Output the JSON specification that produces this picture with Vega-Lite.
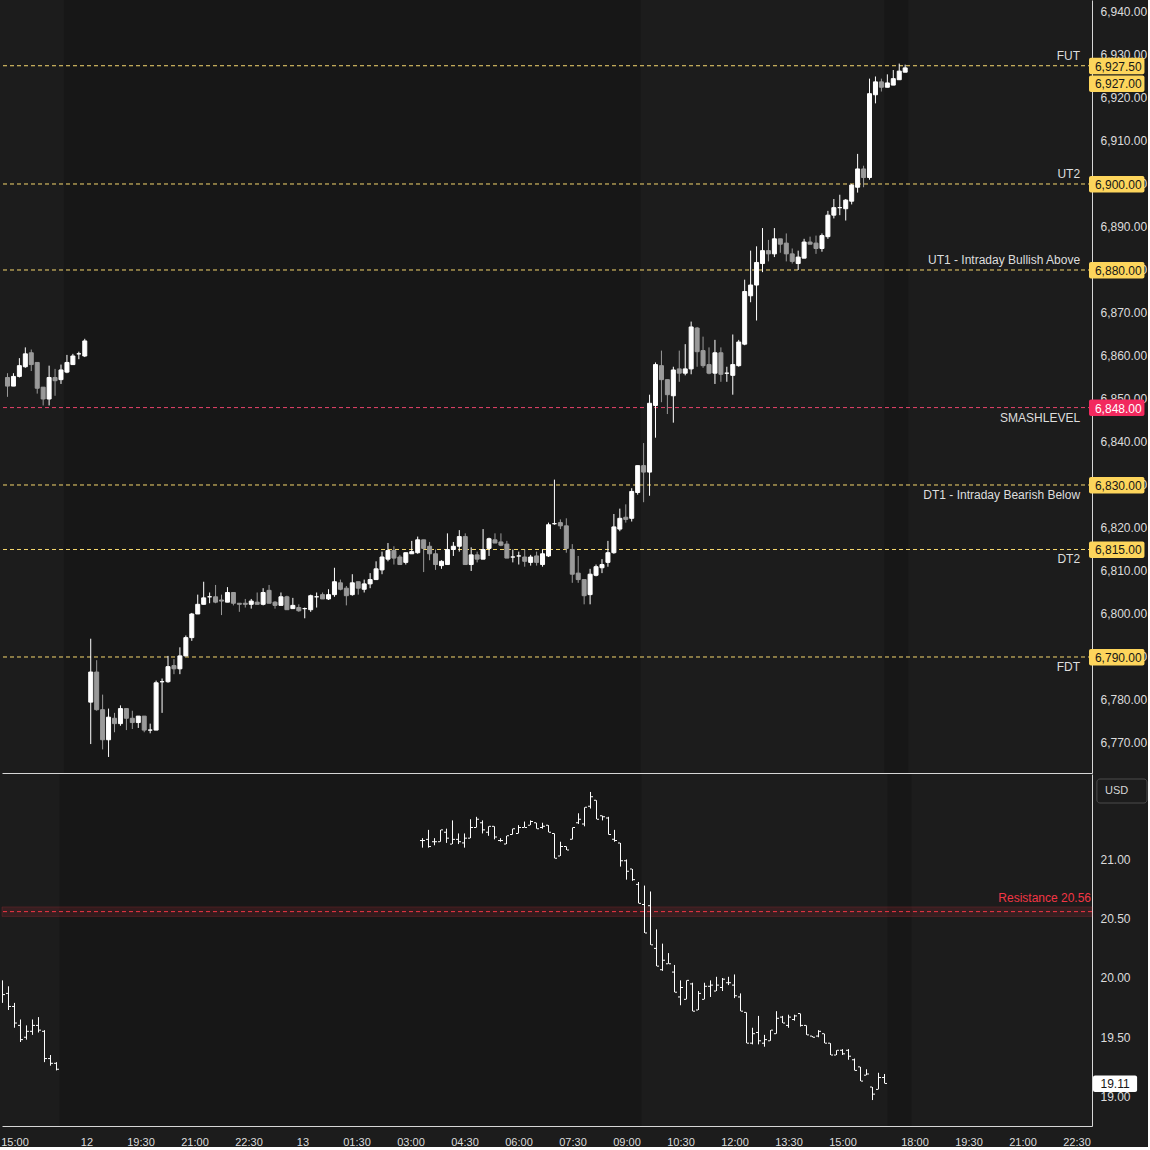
{
  "$schema": "https://vega.github.io/schema/vega-lite/v6.json",
  "background": "#1c1c1c",
  "padding": 0,
  "autosize": {"type": "pad"},
  "spacing": 1,
  "config": {
    "view": {"stroke": null},
    "axis": {"labelFont": "Liberation Sans", "labelFontSize": 12, "labelColor": "#dcdcdc", "domainColor": "#d6d6d6", "grid": false, "ticks": false},
    "text": {"font": "Liberation Sans", "fontSize": 12}
  },
  "datasets": {
    "sessions": [{"start": -4.5, "end": 92.5}, {"start": 133.5, "end": 137.5}],
    "levels": [
      {"name": "FUT", "price": 6927.5, "kind": "level"},
      {"name": "UT2", "price": 6900, "kind": "level"},
      {"name": "UT1 - Intraday Bullish Above", "price": 6880, "kind": "level"},
      {"name": "SMASHLEVEL", "price": 6848, "kind": "smash"},
      {"name": "DT1 - Intraday Bearish Below", "price": 6830, "kind": "level"},
      {"name": "DT2", "price": 6815, "kind": "level"},
      {"name": "FDT", "price": 6790, "kind": "level"}
    ],
    "lastES": [{"price": 6927}],
    "lastVIX": [{"value": 19.11}],
    "res": [{"value": 20.56, "lo": 20.52, "hi": 20.6, "label": "Resistance 20.56"}],
    "usd": [{"t": "USD"}],
    "es": [
      {"k": -14, "o": 6855, "h": 6856, "l": 6850.5, "c": 6853},
      {"k": -13, "o": 6853, "h": 6856, "l": 6853, "c": 6855.25},
      {"k": -12, "o": 6855.25, "h": 6859.5, "l": 6855, "c": 6857.75},
      {"k": -11, "o": 6857.5, "h": 6862, "l": 6857.25, "c": 6860.5},
      {"k": -10, "o": 6860.75, "h": 6861.5, "l": 6856.5, "c": 6858},
      {"k": -9, "o": 6858.5, "h": 6858.5, "l": 6851.25, "c": 6852.5},
      {"k": -8, "o": 6852.75, "h": 6852.75, "l": 6848.5, "c": 6850},
      {"k": -7, "o": 6850, "h": 6857.75, "l": 6848.5, "c": 6855},
      {"k": -6, "o": 6855, "h": 6857, "l": 6850.75, "c": 6854.25},
      {"k": -5, "o": 6854.5, "h": 6858, "l": 6853.5, "c": 6856.75},
      {"k": -4, "o": 6856.25, "h": 6860.25, "l": 6856, "c": 6858.5},
      {"k": -3, "o": 6858, "h": 6860.5, "l": 6858, "c": 6860},
      {"k": -2, "o": 6860.5, "h": 6861, "l": 6859.25, "c": 6860.5},
      {"k": -1, "o": 6860, "h": 6864, "l": 6859.75, "c": 6863.5},
      {"k": 0, "o": 6779.5, "h": 6794.25, "l": 6769.75, "c": 6786.5},
      {"k": 1, "o": 6786.5, "h": 6789.25, "l": 6777.5, "c": 6777.75},
      {"k": 2, "o": 6777.75, "h": 6781.25, "l": 6768.5, "c": 6770.75},
      {"k": 3, "o": 6770.75, "h": 6778, "l": 6766.75, "c": 6776},
      {"k": 4, "o": 6775.75, "h": 6777, "l": 6772.5, "c": 6774.5},
      {"k": 5, "o": 6774.5, "h": 6778.75, "l": 6774, "c": 6778},
      {"k": 6, "o": 6778, "h": 6778, "l": 6773, "c": 6775.75},
      {"k": 7, "o": 6775.75, "h": 6777.5, "l": 6773.25, "c": 6774.75},
      {"k": 8, "o": 6774.75, "h": 6776.25, "l": 6773.5, "c": 6776.25},
      {"k": 9, "o": 6776.25, "h": 6776.25, "l": 6772.5, "c": 6773},
      {"k": 10, "o": 6773, "h": 6774.5, "l": 6772.25, "c": 6773},
      {"k": 11, "o": 6773, "h": 6784.5, "l": 6773, "c": 6784},
      {"k": 12, "o": 6784.25, "h": 6785, "l": 6777, "c": 6784.25},
      {"k": 13, "o": 6784.25, "h": 6790.25, "l": 6784, "c": 6787.75},
      {"k": 14, "o": 6788, "h": 6789.5, "l": 6786, "c": 6787.25},
      {"k": 15, "o": 6787.25, "h": 6792.25, "l": 6786, "c": 6790.25},
      {"k": 16, "o": 6790.25, "h": 6795, "l": 6790.25, "c": 6794.5},
      {"k": 17, "o": 6794.5, "h": 6800.25, "l": 6793.75, "c": 6800},
      {"k": 18, "o": 6800, "h": 6804.5, "l": 6800, "c": 6802.25},
      {"k": 19, "o": 6802.25, "h": 6807.5, "l": 6802.25, "c": 6803.75},
      {"k": 20, "o": 6804, "h": 6805, "l": 6802.5, "c": 6804},
      {"k": 21, "o": 6804, "h": 6806.75, "l": 6802.5, "c": 6802.75},
      {"k": 22, "o": 6803.25, "h": 6804.5, "l": 6799.75, "c": 6803},
      {"k": 23, "o": 6802.75, "h": 6806.25, "l": 6802.75, "c": 6805},
      {"k": 24, "o": 6805, "h": 6805, "l": 6802, "c": 6802.5},
      {"k": 25, "o": 6802.5, "h": 6802.5, "l": 6800.5, "c": 6802.25},
      {"k": 26, "o": 6802.5, "h": 6803.5, "l": 6801.5, "c": 6802.25},
      {"k": 27, "o": 6802.25, "h": 6803.5, "l": 6801.25, "c": 6803},
      {"k": 28, "o": 6802.75, "h": 6805, "l": 6802.25, "c": 6802.25},
      {"k": 29, "o": 6802.25, "h": 6806, "l": 6802, "c": 6805},
      {"k": 30, "o": 6805.5, "h": 6806.75, "l": 6802.5, "c": 6802.5},
      {"k": 31, "o": 6802.75, "h": 6803, "l": 6801.25, "c": 6802},
      {"k": 32, "o": 6802, "h": 6805, "l": 6802, "c": 6804},
      {"k": 33, "o": 6804, "h": 6804.25, "l": 6801, "c": 6801},
      {"k": 34, "o": 6801.25, "h": 6803.75, "l": 6801.25, "c": 6802},
      {"k": 35, "o": 6801.5, "h": 6802.25, "l": 6800.5, "c": 6800.75},
      {"k": 36, "o": 6801.25, "h": 6801.5, "l": 6799, "c": 6801.25},
      {"k": 37, "o": 6801, "h": 6804.5, "l": 6800.5, "c": 6804.25},
      {"k": 38, "o": 6804, "h": 6805, "l": 6801.5, "c": 6804},
      {"k": 39, "o": 6804.5, "h": 6805, "l": 6803.5, "c": 6803.5},
      {"k": 40, "o": 6803.5, "h": 6805.75, "l": 6803.25, "c": 6804.5},
      {"k": 41, "o": 6804.5, "h": 6810.75, "l": 6804, "c": 6807.5},
      {"k": 42, "o": 6807.25, "h": 6808, "l": 6805.5, "c": 6805.75},
      {"k": 43, "o": 6806, "h": 6806.5, "l": 6802, "c": 6804.25},
      {"k": 44, "o": 6804.5, "h": 6809.25, "l": 6804.25, "c": 6807.25},
      {"k": 45, "o": 6807.5, "h": 6807.5, "l": 6804.5, "c": 6806},
      {"k": 46, "o": 6805.75, "h": 6808, "l": 6805, "c": 6807},
      {"k": 47, "o": 6807, "h": 6809.5, "l": 6806, "c": 6808},
      {"k": 48, "o": 6808, "h": 6812.25, "l": 6808, "c": 6810.5},
      {"k": 49, "o": 6810.25, "h": 6814.5, "l": 6809.25, "c": 6813.25},
      {"k": 50, "o": 6812.75, "h": 6816.5, "l": 6812.25, "c": 6814.75},
      {"k": 51, "o": 6814.75, "h": 6815.75, "l": 6811.5, "c": 6813},
      {"k": 52, "o": 6813.25, "h": 6813.75, "l": 6811.5, "c": 6811.5},
      {"k": 53, "o": 6812, "h": 6814.25, "l": 6811.5, "c": 6814.25},
      {"k": 54, "o": 6814, "h": 6817, "l": 6814, "c": 6814.5},
      {"k": 55, "o": 6814.25, "h": 6818, "l": 6814, "c": 6817.25},
      {"k": 56, "o": 6817.25, "h": 6817.25, "l": 6809.75, "c": 6815.25},
      {"k": 57, "o": 6815.75, "h": 6816.75, "l": 6812.5, "c": 6814},
      {"k": 58, "o": 6814, "h": 6815, "l": 6810.25, "c": 6811.5},
      {"k": 59, "o": 6811.25, "h": 6812.5, "l": 6810.5, "c": 6812.25},
      {"k": 60, "o": 6811.5, "h": 6818.75, "l": 6811.5, "c": 6815},
      {"k": 61, "o": 6815, "h": 6816.75, "l": 6813.5, "c": 6815.75},
      {"k": 62, "o": 6815.75, "h": 6819.5, "l": 6814.5, "c": 6818},
      {"k": 63, "o": 6818, "h": 6818.75, "l": 6811.5, "c": 6811.5},
      {"k": 64, "o": 6811.5, "h": 6815.5, "l": 6810, "c": 6813.75},
      {"k": 65, "o": 6813.75, "h": 6814.5, "l": 6812, "c": 6812.75},
      {"k": 66, "o": 6812.75, "h": 6819.75, "l": 6812.75, "c": 6815},
      {"k": 67, "o": 6815.25, "h": 6817.75, "l": 6813.5, "c": 6817.5},
      {"k": 68, "o": 6817.25, "h": 6818.75, "l": 6816.5, "c": 6816.5},
      {"k": 69, "o": 6816.75, "h": 6818.75, "l": 6815.75, "c": 6816},
      {"k": 70, "o": 6816.25, "h": 6817, "l": 6813, "c": 6813},
      {"k": 71, "o": 6813.25, "h": 6815, "l": 6812, "c": 6813.25},
      {"k": 72, "o": 6813.5, "h": 6814.5, "l": 6811.5, "c": 6813.5},
      {"k": 73, "o": 6813.25, "h": 6815, "l": 6811, "c": 6812.25},
      {"k": 74, "o": 6812, "h": 6813.75, "l": 6811.25, "c": 6813.25},
      {"k": 75, "o": 6813.5, "h": 6814.5, "l": 6811.25, "c": 6812},
      {"k": 76, "o": 6811.5, "h": 6815, "l": 6811, "c": 6814},
      {"k": 77, "o": 6813.5, "h": 6821.25, "l": 6813.25, "c": 6820.75},
      {"k": 78, "o": 6821, "h": 6831.25, "l": 6820.75, "c": 6821},
      {"k": 79, "o": 6821.25, "h": 6822, "l": 6819.75, "c": 6820.5},
      {"k": 80, "o": 6820.5, "h": 6822.25, "l": 6814.25, "c": 6815.25},
      {"k": 81, "o": 6815, "h": 6816.25, "l": 6807.25, "c": 6809.25},
      {"k": 82, "o": 6809.5, "h": 6813.5, "l": 6807.25, "c": 6808},
      {"k": 83, "o": 6808, "h": 6808, "l": 6802.25, "c": 6804.25},
      {"k": 84, "o": 6804.5, "h": 6810.5, "l": 6802.25, "c": 6809.25},
      {"k": 85, "o": 6809, "h": 6811.5, "l": 6808.75, "c": 6811},
      {"k": 86, "o": 6810.75, "h": 6812.75, "l": 6809.5, "c": 6811.5},
      {"k": 87, "o": 6812, "h": 6817, "l": 6811, "c": 6814.25},
      {"k": 88, "o": 6814.25, "h": 6823.25, "l": 6814, "c": 6820.25},
      {"k": 89, "o": 6819.75, "h": 6824.5, "l": 6819.25, "c": 6822.25},
      {"k": 90, "o": 6822.5, "h": 6825.5, "l": 6821.25, "c": 6822},
      {"k": 91, "o": 6822.25, "h": 6829.25, "l": 6821.5, "c": 6828.5},
      {"k": 92, "o": 6828.25, "h": 6834.5, "l": 6827.75, "c": 6834.5},
      {"k": 93, "o": 6834.5, "h": 6839.75, "l": 6826, "c": 6833},
      {"k": 94, "o": 6833, "h": 6851, "l": 6827.5, "c": 6849},
      {"k": 95, "o": 6848.5, "h": 6858.5, "l": 6841, "c": 6858},
      {"k": 96, "o": 6857.75, "h": 6861.25, "l": 6849.25, "c": 6854.5},
      {"k": 97, "o": 6854.5, "h": 6854.5, "l": 6846.5, "c": 6851},
      {"k": 98, "o": 6850.75, "h": 6857.5, "l": 6844.5, "c": 6856.75},
      {"k": 99, "o": 6857, "h": 6861.25, "l": 6854, "c": 6856},
      {"k": 100, "o": 6856, "h": 6862.75, "l": 6855.5, "c": 6857},
      {"k": 101, "o": 6857, "h": 6868, "l": 6855.75, "c": 6866.75},
      {"k": 102, "o": 6866.5, "h": 6866.75, "l": 6857.5, "c": 6861},
      {"k": 103, "o": 6861.25, "h": 6864.5, "l": 6857.25, "c": 6857.75},
      {"k": 104, "o": 6858, "h": 6862, "l": 6855.75, "c": 6856},
      {"k": 105, "o": 6856, "h": 6863.75, "l": 6853.5, "c": 6860.75},
      {"k": 106, "o": 6860.75, "h": 6862, "l": 6854, "c": 6855.75},
      {"k": 107, "o": 6856, "h": 6857.5, "l": 6854, "c": 6856},
      {"k": 108, "o": 6855.5, "h": 6865, "l": 6851, "c": 6858},
      {"k": 109, "o": 6857.75, "h": 6863.75, "l": 6857.5, "c": 6863.25},
      {"k": 110, "o": 6862.75, "h": 6877.75, "l": 6862.5, "c": 6875},
      {"k": 111, "o": 6874, "h": 6884.5, "l": 6872.5, "c": 6876.5},
      {"k": 112, "o": 6876.5, "h": 6885.5, "l": 6868.25, "c": 6881.75},
      {"k": 113, "o": 6881.5, "h": 6889.75, "l": 6879.5, "c": 6884.5},
      {"k": 114, "o": 6884.5, "h": 6887, "l": 6882, "c": 6883.75},
      {"k": 115, "o": 6883.75, "h": 6889.75, "l": 6883, "c": 6887.25},
      {"k": 116, "o": 6887.25, "h": 6887.25, "l": 6884, "c": 6886},
      {"k": 117, "o": 6886.25, "h": 6888.5, "l": 6882, "c": 6883.75},
      {"k": 118, "o": 6883.75, "h": 6885, "l": 6881.5, "c": 6882},
      {"k": 119, "o": 6881.5, "h": 6884.5, "l": 6880, "c": 6883},
      {"k": 120, "o": 6882.75, "h": 6887.25, "l": 6882.75, "c": 6886.5},
      {"k": 121, "o": 6886.5, "h": 6887.75, "l": 6886, "c": 6886},
      {"k": 122, "o": 6886.25, "h": 6888, "l": 6883.75, "c": 6885},
      {"k": 123, "o": 6885, "h": 6888.5, "l": 6884.25, "c": 6888},
      {"k": 124, "o": 6887.75, "h": 6893.75, "l": 6887.25, "c": 6892.75},
      {"k": 125, "o": 6892.75, "h": 6896.5, "l": 6892, "c": 6894.5},
      {"k": 126, "o": 6894.5, "h": 6897.5, "l": 6892.75, "c": 6894.5},
      {"k": 127, "o": 6894.25, "h": 6896.5, "l": 6891.5, "c": 6896.25},
      {"k": 128, "o": 6896, "h": 6900, "l": 6895.25, "c": 6899.75},
      {"k": 129, "o": 6899.25, "h": 6907, "l": 6898, "c": 6903.5},
      {"k": 130, "o": 6903.5, "h": 6904.25, "l": 6899.25, "c": 6901.5},
      {"k": 131, "o": 6901.5, "h": 6924.5, "l": 6901, "c": 6921},
      {"k": 132, "o": 6920.75, "h": 6925, "l": 6918.75, "c": 6923.75},
      {"k": 133, "o": 6923.75, "h": 6924.5, "l": 6921.5, "c": 6922.5},
      {"k": 134, "o": 6922.5, "h": 6925.5, "l": 6922.5, "c": 6923.5},
      {"k": 135, "o": 6923, "h": 6926.5, "l": 6923, "c": 6924.5},
      {"k": 136, "o": 6924.25, "h": 6928, "l": 6924.25, "c": 6926.25},
      {"k": 137, "o": 6926, "h": 6927.75, "l": 6926, "c": 6927}
    ],
    "vix": [
      {"k": -14, "o": 19.95, "h": 19.98, "l": 19.79, "c": 19.86},
      {"k": -13, "o": 19.87, "h": 19.93, "l": 19.73, "c": 19.76},
      {"k": -12, "o": 19.76, "h": 19.79, "l": 19.58, "c": 19.62},
      {"k": -11, "o": 19.6, "h": 19.65, "l": 19.46, "c": 19.48},
      {"k": -10, "o": 19.5, "h": 19.6, "l": 19.48, "c": 19.55},
      {"k": -9, "o": 19.55, "h": 19.65, "l": 19.52, "c": 19.6},
      {"k": -8, "o": 19.6, "h": 19.67, "l": 19.54, "c": 19.56},
      {"k": -7, "o": 19.55, "h": 19.56, "l": 19.29, "c": 19.32},
      {"k": -6, "o": 19.32, "h": 19.35, "l": 19.26, "c": 19.28},
      {"k": -5, "o": 19.28, "h": 19.29, "l": 19.22, "c": 19.23},
      {"k": 56, "o": 21.16, "h": 21.18, "l": 21.1, "c": 21.16},
      {"k": 57, "o": 21.17, "h": 21.25, "l": 21.1, "c": 21.11},
      {"k": 58, "o": 21.15, "h": 21.18, "l": 21.12, "c": 21.15},
      {"k": 59, "o": 21.15, "h": 21.25, "l": 21.15, "c": 21.25},
      {"k": 60, "o": 21.23, "h": 21.26, "l": 21.14, "c": 21.18},
      {"k": 61, "o": 21.13, "h": 21.33, "l": 21.13, "c": 21.17},
      {"k": 62, "o": 21.17, "h": 21.22, "l": 21.13, "c": 21.15},
      {"k": 63, "o": 21.14, "h": 21.22, "l": 21.1, "c": 21.18},
      {"k": 64, "o": 21.18, "h": 21.34, "l": 21.18, "c": 21.27},
      {"k": 65, "o": 21.27, "h": 21.36, "l": 21.27, "c": 21.34},
      {"k": 66, "o": 21.31, "h": 21.33, "l": 21.22, "c": 21.25},
      {"k": 67, "o": 21.23, "h": 21.28, "l": 21.2, "c": 21.28},
      {"k": 68, "o": 21.28, "h": 21.28, "l": 21.17, "c": 21.19},
      {"k": 69, "o": 21.16, "h": 21.18, "l": 21.15, "c": 21.16},
      {"k": 70, "o": 21.13, "h": 21.2, "l": 21.13, "c": 21.2},
      {"k": 71, "o": 21.21, "h": 21.26, "l": 21.21, "c": 21.26},
      {"k": 72, "o": 21.22, "h": 21.29, "l": 21.22, "c": 21.27},
      {"k": 73, "o": 21.27, "h": 21.32, "l": 21.27, "c": 21.27},
      {"k": 74, "o": 21.29, "h": 21.33, "l": 21.29, "c": 21.32},
      {"k": 75, "o": 21.31, "h": 21.31, "l": 21.26, "c": 21.26},
      {"k": 76, "o": 21.27, "h": 21.31, "l": 21.26, "c": 21.28},
      {"k": 77, "o": 21.29, "h": 21.29, "l": 21.23, "c": 21.23},
      {"k": 78, "o": 21.22, "h": 21.22, "l": 21.01, "c": 21.01},
      {"k": 79, "o": 21.03, "h": 21.15, "l": 21.03, "c": 21.11},
      {"k": 80, "o": 21.11, "h": 21.11, "l": 21.08, "c": 21.08},
      {"k": 81, "o": 21.17, "h": 21.27, "l": 21.17, "c": 21.27},
      {"k": 82, "o": 21.31, "h": 21.39, "l": 21.3, "c": 21.34},
      {"k": 83, "o": 21.3, "h": 21.44, "l": 21.28, "c": 21.44},
      {"k": 84, "o": 21.45, "h": 21.57, "l": 21.43, "c": 21.53},
      {"k": 85, "o": 21.5, "h": 21.5, "l": 21.34, "c": 21.34},
      {"k": 86, "o": 21.37, "h": 21.37, "l": 21.33, "c": 21.36},
      {"k": 87, "o": 21.35, "h": 21.36, "l": 21.21, "c": 21.21},
      {"k": 88, "o": 21.17, "h": 21.25, "l": 21.15, "c": 21.16},
      {"k": 89, "o": 21.14, "h": 21.14, "l": 20.94, "c": 20.99},
      {"k": 90, "o": 20.99, "h": 21.0, "l": 20.83, "c": 20.9},
      {"k": 91, "o": 20.92, "h": 20.92, "l": 20.82, "c": 20.83},
      {"k": 92, "o": 20.79, "h": 20.81, "l": 20.63, "c": 20.63},
      {"k": 93, "o": 20.62, "h": 20.78, "l": 20.38, "c": 20.38},
      {"k": 94, "o": 20.61, "h": 20.73, "l": 20.28, "c": 20.28},
      {"k": 95, "o": 20.25, "h": 20.41, "l": 20.1, "c": 20.1},
      {"k": 96, "o": 20.07, "h": 20.29, "l": 20.06, "c": 20.15},
      {"k": 97, "o": 20.12, "h": 20.21, "l": 20.12, "c": 20.12},
      {"k": 98, "o": 20.05, "h": 20.11, "l": 19.88, "c": 19.88},
      {"k": 99, "o": 19.84, "h": 19.98, "l": 19.77, "c": 19.92},
      {"k": 100, "o": 19.82, "h": 19.98, "l": 19.82, "c": 19.98},
      {"k": 101, "o": 19.95, "h": 19.96, "l": 19.72, "c": 19.72},
      {"k": 102, "o": 19.73, "h": 19.89, "l": 19.73, "c": 19.87},
      {"k": 103, "o": 19.82, "h": 19.96, "l": 19.82, "c": 19.93},
      {"k": 104, "o": 19.93, "h": 19.98, "l": 19.84, "c": 19.94},
      {"k": 105, "o": 19.89, "h": 20.01, "l": 19.89, "c": 19.94},
      {"k": 106, "o": 19.92, "h": 20.0, "l": 19.89, "c": 19.99},
      {"k": 107, "o": 19.96, "h": 20.01, "l": 19.94, "c": 19.96},
      {"k": 108, "o": 19.94, "h": 20.03, "l": 19.83, "c": 19.85},
      {"k": 109, "o": 19.84, "h": 19.87, "l": 19.72, "c": 19.72},
      {"k": 110, "o": 19.71, "h": 19.71, "l": 19.45, "c": 19.45},
      {"k": 111, "o": 19.45, "h": 19.58, "l": 19.44, "c": 19.53},
      {"k": 112, "o": 19.54, "h": 19.68, "l": 19.44, "c": 19.47},
      {"k": 113, "o": 19.45, "h": 19.52, "l": 19.42, "c": 19.48},
      {"k": 114, "o": 19.47, "h": 19.56, "l": 19.47, "c": 19.56},
      {"k": 115, "o": 19.53, "h": 19.72, "l": 19.53, "c": 19.66},
      {"k": 116, "o": 19.67, "h": 19.68, "l": 19.62, "c": 19.62},
      {"k": 117, "o": 19.6, "h": 19.69, "l": 19.58, "c": 19.67},
      {"k": 118, "o": 19.65, "h": 19.69, "l": 19.64, "c": 19.68},
      {"k": 119, "o": 19.7, "h": 19.7, "l": 19.59, "c": 19.6},
      {"k": 120, "o": 19.6, "h": 19.6, "l": 19.52, "c": 19.52},
      {"k": 121, "o": 19.51, "h": 19.51, "l": 19.5, "c": 19.5},
      {"k": 122, "o": 19.51, "h": 19.56, "l": 19.5, "c": 19.55},
      {"k": 123, "o": 19.53, "h": 19.53, "l": 19.45, "c": 19.45},
      {"k": 124, "o": 19.45, "h": 19.45, "l": 19.35, "c": 19.35},
      {"k": 125, "o": 19.35, "h": 19.39, "l": 19.35, "c": 19.39},
      {"k": 126, "o": 19.39, "h": 19.4, "l": 19.35, "c": 19.36},
      {"k": 127, "o": 19.39, "h": 19.4, "l": 19.31, "c": 19.34},
      {"k": 128, "o": 19.31, "h": 19.32, "l": 19.22, "c": 19.22},
      {"k": 129, "o": 19.25, "h": 19.25, "l": 19.13, "c": 19.13},
      {"k": 130, "o": 19.18, "h": 19.23, "l": 19.18, "c": 19.19},
      {"k": 131, "o": 19.08, "h": 19.08, "l": 18.97, "c": 19.02},
      {"k": 132, "o": 19.06, "h": 19.2, "l": 19.06, "c": 19.16},
      {"k": 133, "o": 19.16, "h": 19.19, "l": 19.11, "c": 19.11}
    ]
  },
  "vconcat": [
    {
      "width": 1090,
      "height": 773,
      "layer": [
        {
          "data": {"name": "sessions"},
          "mark": {"type": "rect", "color": "#171717"},
          "encoding": {
            "x": {"field": "start", "type": "quantitative", "title": null,
              "scale": {"domain": [-14.0833, 167.5833], "nice": false, "zero": false},
              "axis": {"labels": false, "ticks": false, "domain": true, "domainColor": "#d6d6d6", "title": null, "zindex": 1}},
            "x2": {"field": "end"}
          }
        },
        {
          "data": {"name": "levels"},
          "mark": {"type": "rule", "strokeDash": [4, 3], "strokeWidth": 1},
          "encoding": {
            "y": {"field": "price", "type": "quantitative", "title": null,
              "scale": {"domain": [6763.02, 6942.79], "nice": false, "zero": false},
              "axis": {"orient": "right", "values": [6770, 6780, 6790, 6800, 6810, 6820, 6830, 6840, 6850, 6860, 6870, 6880, 6890, 6900, 6910, 6920, 6930, 6940], "format": ",.2f", "labelPadding": 8, "domain": true, "title": null}},
            "color": {"condition": {"test": "datum.kind == 'smash'", "value": "#e8446b"}, "value": "#f5d76e"}
          }
        },
        {
          "data": {"name": "es"},
          "mark": {"type": "rule", "strokeWidth": 1, "clip": true},
          "encoding": {
            "x": {"field": "k", "type": "quantitative", "title": null, "scale": {"domain": [-14.0833, 167.5833], "nice": false, "zero": false}},
            "y": {"field": "l", "type": "quantitative", "title": null, "scale": {"domain": [6763.02, 6942.79], "nice": false, "zero": false}},
            "y2": {"field": "h"},
            "color": {"condition": {"test": "datum.c >= datum.o", "value": "#ffffff"}, "value": "#9a9a9a"}
          }
        },
        {
          "data": {"name": "es"},
          "mark": {"type": "bar", "width": 4, "strokeWidth": 1, "clip": true},
          "encoding": {
            "x": {"field": "k", "type": "quantitative", "title": null, "scale": {"domain": [-14.0833, 167.5833], "nice": false, "zero": false}},
            "y": {"field": "o", "type": "quantitative", "title": null, "scale": {"domain": [6763.02, 6942.79], "nice": false, "zero": false}},
            "y2": {"field": "c"},
            "fill": {"condition": {"test": "datum.c >= datum.o", "value": "#ffffff"}, "value": "#9a9a9a"},
            "stroke": {"condition": {"test": "datum.c >= datum.o", "value": "#ffffff"}, "value": "#9a9a9a"}
          }
        },
        {
          "data": {"name": "levels"},
          "transform": [{"filter": "datum.price >= 6880"}],
          "mark": {"type": "text", "align": "right", "baseline": "middle", "dy": -10, "color": "#dedede"},
          "encoding": {
            "x": {"datum": 166.42, "type": "quantitative", "scale": {"domain": [-14.0833, 167.5833], "nice": false, "zero": false}},
            "y": {"field": "price", "type": "quantitative", "title": null, "scale": {"domain": [6763.02, 6942.79], "nice": false, "zero": false}},
            "text": {"field": "name"}
          }
        },
        {
          "data": {"name": "levels"},
          "transform": [{"filter": "datum.price < 6880"}],
          "mark": {"type": "text", "align": "right", "baseline": "middle", "dy": 10, "color": "#dedede"},
          "encoding": {
            "x": {"datum": 166.42, "type": "quantitative", "scale": {"domain": [-14.0833, 167.5833], "nice": false, "zero": false}},
            "y": {"field": "price", "type": "quantitative", "title": null, "scale": {"domain": [6763.02, 6942.79], "nice": false, "zero": false}},
            "text": {"field": "name"}
          }
        },
        {
          "data": {"name": "levels"},
          "mark": {"type": "rect", "yOffset": -8, "y2Offset": 8.5, "cornerRadius": 2},
          "encoding": {
            "x": {"datum": 167.92, "type": "quantitative", "scale": {"domain": [-14.0833, 167.5833], "nice": false, "zero": false}},
            "x2": {"datum": 177.25},
            "y": {"field": "price", "type": "quantitative", "title": null, "scale": {"domain": [6763.02, 6942.79], "nice": false, "zero": false}},
            "y2": {"field": "price"},
            "fill": {"condition": {"test": "datum.kind == 'smash'", "value": "#f2295e"}, "value": "#fdd55c"}
          }
        },
        {
          "data": {"name": "levels"},
          "mark": {"type": "text", "align": "left", "baseline": "middle", "dy": 1},
          "encoding": {
            "x": {"datum": 168.92, "type": "quantitative", "scale": {"domain": [-14.0833, 167.5833], "nice": false, "zero": false}},
            "y": {"field": "price", "type": "quantitative", "title": null, "scale": {"domain": [6763.02, 6942.79], "nice": false, "zero": false}},
            "text": {"field": "price", "type": "quantitative", "format": ",.2f"},
            "color": {"condition": {"test": "datum.kind == 'smash'", "value": "#ffffff"}, "value": "#161616"}
          }
        },
        {
          "data": {"name": "lastES"},
          "mark": {"type": "rect", "yOffset": 7.5, "y2Offset": 24, "cornerRadius": 2, "fill": "#fdd55c"},
          "encoding": {
            "x": {"datum": 167.92, "type": "quantitative", "scale": {"domain": [-14.0833, 167.5833], "nice": false, "zero": false}},
            "x2": {"datum": 177.25},
            "y": {"field": "price", "type": "quantitative", "title": null, "scale": {"domain": [6763.02, 6942.79], "nice": false, "zero": false}},
            "y2": {"field": "price"}
          }
        },
        {
          "data": {"name": "lastES"},
          "mark": {"type": "text", "align": "left", "baseline": "middle", "dy": 16.5, "color": "#161616"},
          "encoding": {
            "x": {"datum": 168.92, "type": "quantitative", "scale": {"domain": [-14.0833, 167.5833], "nice": false, "zero": false}},
            "y": {"field": "price", "type": "quantitative", "title": null, "scale": {"domain": [6763.02, 6942.79], "nice": false, "zero": false}},
            "text": {"field": "price", "type": "quantitative", "format": ",.2f"}
          }
        }
      ]
    },
    {
      "width": 1090,
      "height": 352,
      "layer": [
        {
          "data": {"name": "sessions"},
          "mark": {"type": "rect", "color": "#171717"},
          "encoding": {
            "x": {"field": "start", "type": "quantitative", "title": null,
              "scale": {"domain": [-14.0833, 167.5833], "nice": false, "zero": false},
              "axis": {"orient": "bottom", "domain": true, "ticks": false, "labelPadding": 10, "labelFontSize": 11, "labelFlush": false, "labelOverlap": false, "title": null, "zindex": 1,
                "values": [-12, 0, 9, 18, 27, 36, 45, 54, 63, 72, 81, 90, 99, 108, 117, 126, 138, 147, 156, 165],
                "labelExpr": "['15:00','12','19:30','21:00','22:30','13','01:30','03:00','04:30','06:00','07:30','09:00','10:30','12:00','13:30','15:00','18:00','19:30','21:00','22:30'][indexof([-12,0,9,18,27,36,45,54,63,72,81,90,99,108,117,126,138,147,156,165], datum.value)]"}},
            "x2": {"field": "end"}
          }
        },
        {
          "data": {"name": "res"},
          "mark": {"type": "rect", "fill": "#f23645", "fillOpacity": 0.13, "stroke": "#f23645", "strokeOpacity": 0.18, "strokeWidth": 1},
          "encoding": {
            "y": {"field": "lo", "type": "quantitative", "title": null, "scale": {"domain": [18.751, 21.7215], "nice": false, "zero": false},
              "axis": {"orient": "right", "values": [19, 19.5, 20, 20.5, 21], "format": ".2f", "labelPadding": 8, "domain": true, "title": null}},
            "y2": {"field": "hi"}
          }
        },
        {
          "data": {"name": "res"},
          "mark": {"type": "rule", "color": "#f23645", "strokeDash": [4, 3], "strokeWidth": 1},
          "encoding": {
            "y": {"field": "value", "type": "quantitative", "title": null, "scale": {"domain": [18.751, 21.7215], "nice": false, "zero": false}}
          }
        },
        {
          "data": {"name": "res"},
          "mark": {"type": "text", "align": "right", "baseline": "middle", "dy": -14, "color": "#f23645"},
          "encoding": {
            "x": {"datum": 167.42, "type": "quantitative", "scale": {"domain": [-14.0833, 167.5833], "nice": false, "zero": false}},
            "y": {"field": "value", "type": "quantitative", "title": null, "scale": {"domain": [18.751, 21.7215], "nice": false, "zero": false}},
            "text": {"field": "label"}
          }
        },
        {
          "data": {"name": "vix"},
          "mark": {"type": "rule", "color": "#ffffff", "strokeWidth": 1, "clip": true},
          "encoding": {
            "x": {"field": "k", "type": "quantitative", "title": null, "scale": {"domain": [-14.0833, 167.5833], "nice": false, "zero": false}},
            "y": {"field": "l", "type": "quantitative", "title": null, "scale": {"domain": [18.751, 21.7215], "nice": false, "zero": false}},
            "y2": {"field": "h"}
          }
        },
        {
          "data": {"name": "vix"},
          "mark": {"type": "tick", "orient": "horizontal", "size": 2, "thickness": 1, "xOffset": -1.5, "color": "#ffffff", "opacity": 1, "clip": true},
          "encoding": {
            "x": {"field": "k", "type": "quantitative", "title": null, "scale": {"domain": [-14.0833, 167.5833], "nice": false, "zero": false}},
            "y": {"field": "o", "type": "quantitative", "title": null, "scale": {"domain": [18.751, 21.7215], "nice": false, "zero": false}}
          }
        },
        {
          "data": {"name": "vix"},
          "mark": {"type": "tick", "orient": "horizontal", "size": 2, "thickness": 1, "xOffset": 1.5, "color": "#ffffff", "opacity": 1, "clip": true},
          "encoding": {
            "x": {"field": "k", "type": "quantitative", "title": null, "scale": {"domain": [-14.0833, 167.5833], "nice": false, "zero": false}},
            "y": {"field": "c", "type": "quantitative", "title": null, "scale": {"domain": [18.751, 21.7215], "nice": false, "zero": false}}
          }
        },
        {
          "data": {"name": "lastVIX"},
          "mark": {"type": "rect", "yOffset": -8, "y2Offset": 8.5, "cornerRadius": 2, "fill": "#ffffff"},
          "encoding": {
            "x": {"datum": 167.75, "type": "quantitative", "scale": {"domain": [-14.0833, 167.5833], "nice": false, "zero": false}},
            "x2": {"datum": 175.1},
            "y": {"field": "value", "type": "quantitative", "title": null, "scale": {"domain": [18.751, 21.7215], "nice": false, "zero": false}},
            "y2": {"field": "value"}
          }
        },
        {
          "data": {"name": "lastVIX"},
          "mark": {"type": "text", "align": "left", "baseline": "middle", "dy": 1, "color": "#161616"},
          "encoding": {
            "x": {"datum": 169.0, "type": "quantitative", "scale": {"domain": [-14.0833, 167.5833], "nice": false, "zero": false}},
            "y": {"field": "value", "type": "quantitative", "title": null, "scale": {"domain": [18.751, 21.7215], "nice": false, "zero": false}},
            "text": {"field": "value", "type": "quantitative", "format": ".2f"}
          }
        },
        {
          "data": {"name": "usd"},
          "mark": {"type": "rect", "yOffset": -12, "y2Offset": 12, "cornerRadius": 3, "fill": "#1c1c1c", "stroke": "#4a4a4a", "strokeWidth": 1},
          "encoding": {
            "x": {"datum": 168.4, "type": "quantitative", "scale": {"domain": [-14.0833, 167.5833], "nice": false, "zero": false}},
            "x2": {"datum": 176.75},
            "y": {"datum": 21.578, "type": "quantitative", "scale": {"domain": [18.751, 21.7215], "nice": false, "zero": false}},
            "y2": {"datum": 21.578}
          }
        },
        {
          "data": {"name": "usd"},
          "mark": {"type": "text", "align": "left", "baseline": "middle", "fontSize": 11, "color": "#d6d6d6"},
          "encoding": {
            "x": {"datum": 169.75, "type": "quantitative", "scale": {"domain": [-14.0833, 167.5833], "nice": false, "zero": false}},
            "y": {"datum": 21.578, "type": "quantitative", "scale": {"domain": [18.751, 21.7215], "nice": false, "zero": false}},
            "text": {"field": "t"}
          }
        }
      ]
    }
  ]
}
